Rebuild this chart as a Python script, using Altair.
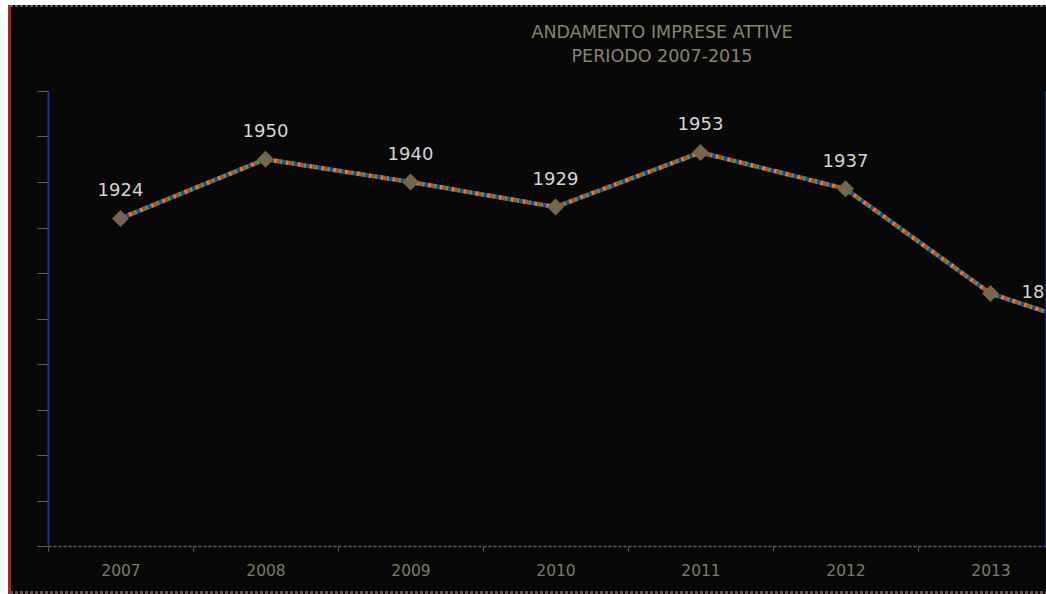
import altair as alt
import pandas as pd

# Imprese attive per anno
anni = [2007, 2008, 2009, 2010, 2011, 2012, 2013, 2014, 2015]
imprese = [1924, 1950, 1940, 1929, 1953, 1937, 1891, 1870, 1862]

titolo = ["ANDAMENTO IMPRESE ATTIVE", "PERIODO 2007-2015"]

# stripe colours used to draw the line as a multicoloured dashed band
stripe_colors = ["#d0452e", "#48a24a", "#2c44b4", "#d08a2c"]

df = pd.DataFrame({"anno": anni, "imprese": imprese})
df_titolo = pd.DataFrame({"riga": titolo, "n": list(range(len(titolo)))})

W, H = 998, 455
STEP = 145

# one band per year; the full run of years is wider than the visible panel
x_scale = alt.Scale(type="band", range=[0, STEP * len(anni)], paddingInner=0, paddingOuter=0)
y_scale = alt.Scale(domain=[1780, 1980], nice=False, zero=False)

x_axis = alt.Axis(
    tickBand="extent",
    labelAngle=0,
    labelFlush=False,
    labelOverlap=False,
    labelBound=False,
    labelFont="DejaVu Sans",
    labelFontSize=15.5,
    labelColor="#7c7a68",
    labelPadding=12,
    tickSize=5,
    tickColor="#8a4a40",
    domainColor="#6a5a52",
    domainDash=[3, 2],
    domainWidth=1.5,
    grid=False,
    title=None,
    zindex=2,
)

y_axis = alt.Axis(
    values=list(range(1780, 1981, 20)),
    labels=False,
    tickSize=11,
    tickColor="#6a5a72",
    domainColor="#1e2ea4",
    domainWidth=2,
    grid=False,
    title=None,
    zindex=2,
)

base = alt.Chart(df)

# dark panel behind everything, with its edges
panel = base.mark_rect(color="#080808", clip=False).encode(
    x=alt.value(-40), x2=alt.value(W + 10),
    y=alt.value(-86), y2=alt.value(H + 48),
)
left_edge = base.mark_rule(color="#9a2e22", strokeWidth=3, clip=False).encode(
    x=alt.value(-38.5), y=alt.value(-86), y2=alt.value(H + 48),
)
top_edge = base.mark_rule(color="#6a5a6a", strokeWidth=2, strokeDash=[3, 2], clip=False).encode(
    x=alt.value(-38), x2=alt.value(W + 10), y=alt.value(-85),
)
bottom_edge = base.mark_rule(color="#6a5a5a", strokeWidth=1.5, strokeDash=[3, 2], clip=False).encode(
    x=alt.value(-38), x2=alt.value(W + 10), y=alt.value(H + 46.5),
)

# two-line heading above the plot
heading = alt.Chart(df_titolo).mark_text(
    font="DejaVu Sans", fontSize=17.5, color="#86846f", align="center", baseline="middle", clip=False
).encode(
    x=alt.value(614),
    y=alt.Y("n:Q", scale=alt.Scale(domain=[0, 1], range=[-58, -34.5]), axis=None),
    text="riga:N",
)

enc = dict(
    x=alt.X("anno:O", scale=x_scale, axis=x_axis),
    y=alt.Y("imprese:Q", scale=y_scale, axis=y_axis),
)

stripes = [
    base.mark_line(
        color=c, strokeWidth=4.5, strokeDash=[3, 9], strokeDashOffset=-3 * i, clip=True
    ).encode(**enc)
    for i, c in enumerate(stripe_colors)
]

points = base.mark_point(
    shape="diamond", filled=True, size=290, color="#76654f", opacity=1, clip=True
).encode(**enc)

labels_above = base.transform_filter("datum.anno < 2013").mark_text(
    dy=-27, font="DejaVu Sans", fontSize=18, color="#d8d2d8", clip=True
).encode(**enc, text=alt.Text("imprese:Q", format="d"))

labels_right = base.transform_filter("datum.anno >= 2013").mark_text(
    dx=31, align="left", font="DejaVu Sans", fontSize=18, color="#d8d2d8", clip=True
).encode(**enc, text=alt.Text("imprese:Q", format="d"))

chart = alt.layer(
    panel, left_edge, top_edge, bottom_edge, heading,
    *stripes, points, labels_above, labels_right
).resolve_scale(y="independent").properties(
    width=W,
    height=H,
    padding={"left": 48, "top": 91, "right": 0, "bottom": 48},
    autosize=alt.AutoSizeParams(type="none"),
    background="white",
).configure_view(stroke=None)

chart.save("out.html", embed_options={"renderer": "svg", "actions": False})
